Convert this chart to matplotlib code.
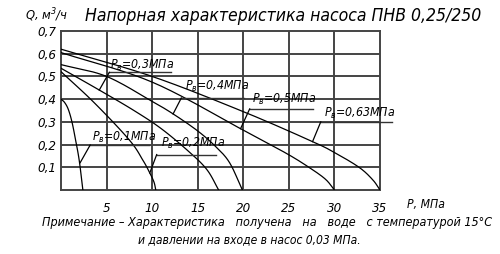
import numpy as np
import matplotlib.pyplot as plt
from matplotlib import font_manager

# --- данные ---
labels = ['0,1', '0,2', '0,3', '0,4', '0,5', '0,63']

p01_x = [0, 0.4, 0.8, 1.2, 1.6, 2.0, 2.4]
p01_q = [0.40, 0.385, 0.355, 0.30, 0.22, 0.13, 0.0]

p02_x = [0, 3.7, 7.5, 9.0, 9.74, 10.2, 10.4]
p02_q = [0.521, 0.382, 0.22, 0.13, 0.075, 0.035, 0.0]

p03_x = [0, 4.2, 8, 11, 14, 16, 17.3]
p03_q = [0.536, 0.44, 0.35, 0.27, 0.17, 0.09, 0.0]

p04_x = [0, 5, 10, 12.3, 15, 17, 18.5, 19.9]
p04_q = [0.552, 0.50, 0.39, 0.335, 0.26, 0.19, 0.12, 0.0]

p05_x = [0, 10, 19.7, 21.8, 25, 27.2, 29, 30]
p05_q = [0.605, 0.475, 0.27, 0.225, 0.155, 0.10, 0.048, 0.0]

p063_x = [0, 10, 20, 27.6, 30, 32.7, 34.2, 35]
p063_q = [0.62, 0.50, 0.345, 0.213, 0.165, 0.10, 0.045, 0.0]

curves = [(p01_x, p01_q), (p02_x, p02_q), (p03_x, p03_q),
          (p04_x, p04_q), (p05_x, p05_q), (p063_x, p063_q)]

# подписи: начало текста (по базовой линии), полка (x1, x2, y), конец выноски на кривой
lab_text = [(3.4, 0.215), (11.0, 0.19), (5.4, 0.533), (13.6, 0.44), (21.0, 0.385), (28.9, 0.32)]
lab_shelf = [(3.2, 9.7, 0.198), (10.5, 17.0, 0.156), (5.3, 12.1, 0.518),
             (13.2, 20.1, 0.405), (20.7, 27.6, 0.357), (28.5, 36.3, 0.30)]
lab_end = [(2.1, 0.12), (9.74, 0.075), (4.2, 0.44), (12.3, 0.335), (19.7, 0.27), (27.6, 0.213)]

x_ticks = [5, 10, 15, 20, 25, 30, 35]
y_ticks = [0.1, 0.2, 0.3, 0.4, 0.5, 0.6, 0.7]

W, H = 500, 254


def smooth(xs, ys, n=20):
    """Catmull-Rom сглаживание по точкам."""
    pts = np.column_stack([xs, ys]).astype(float)
    pts = np.vstack([2 * pts[0] - pts[1], pts, 2 * pts[-1] - pts[-2]])
    out = []
    for i in range(1, len(pts) - 2):
        p0, p1, p2, p3 = pts[i - 1], pts[i], pts[i + 1], pts[i + 2]
        t = np.linspace(0, 1, n, endpoint=False)[:, None]
        seg = 0.5 * ((2 * p1) + (-p0 + p2) * t + (2 * p0 - 5 * p1 + 4 * p2 - p3) * t ** 2
                     + (-p0 + 3 * p1 - 3 * p2 + p3) * t ** 3)
        out.append(seg)
    out.append(pts[-2][None, :])
    out = np.vstack(out)
    return out[:, 0], out[:, 1]


names = {f.name for f in font_manager.fontManager.ttflist}
fam = 'Liberation Sans Narrow' if 'Liberation Sans Narrow' in names else 'DejaVu Sans'
plt.rcParams['font.family'] = [fam, 'DejaVu Sans']
plt.rcParams['font.style'] = 'italic'
plt.rcParams['font.stretch'] = 'condensed'
plt.rcParams['mathtext.fontset'] = 'custom'
plt.rcParams['mathtext.rm'] = fam
plt.rcParams['mathtext.it'] = fam + ':italic'

fig = plt.figure(figsize=(W / 100, H / 100), dpi=100)
ax = fig.add_axes([61 / W, 1 - 190 / H, 319 / W, 159 / H])
ax.set_xlim(0, 35)
ax.set_ylim(0, 0.7)


def fit(t, width_px):
    """подгоняет размер шрифта под ширину в пикселях"""
    r = fig.canvas.get_renderer()
    for _ in range(2):
        w = t.get_window_extent(r).width
        t.set_fontsize(t.get_fontsize() * width_px / w)


def ftext(x, y, s, width_px, ha='left', size=10):
    t = fig.text(x / W, 1 - y / H, s, fontsize=size, ha=ha, va='baseline')
    fit(t, width_px)
    return t


for v in x_ticks[:-1]:
    ax.axvline(v, color='#444444', lw=1.4, zorder=1)
for v in y_ticks[:-1]:
    ax.axhline(v, color='#444444', lw=1.4, zorder=1)
for s in ax.spines.values():
    s.set_color('#444444')
    s.set_linewidth(1.4)

for xs, ys in curves:
    sx, sy = smooth(xs, ys)
    ax.plot(sx, sy, color='black', lw=0.9, zorder=3)

lab_objs = []
for lab, (tx, ty), (x1, x2, yy), (ex, ey) in zip(labels, lab_text, lab_shelf, lab_end):
    t = ax.text(tx, ty, r'$P_{в}$=' + lab + 'МПа', fontsize=9, va='baseline', ha='left', zorder=4)
    lab_objs.append(t)
    ax.plot([x1, x2], [yy, yy], color='#333333', lw=1.0, clip_on=False, zorder=4)
    ax.plot([x1, ex], [yy, ey], color='black', lw=0.9, clip_on=False, zorder=4)

fig.canvas.draw()
fit(lab_objs[2], 64)
for t in lab_objs:
    t.set_fontsize(lab_objs[2].get_fontsize())

ax.set_xticks(x_ticks)
ax.set_xticklabels([str(v) for v in x_ticks])
ax.set_yticks(y_ticks)
ax.set_yticklabels([f'{v:.1f}'.replace('.', ',') for v in y_ticks])
ax.tick_params(length=0, labelsize=9.5, pad=3)
ax.tick_params(axis='x', pad=9)

ftext(25, 20, 'Q, м$^3$/ч', 43)
ftext(85, 21, 'Напорная характеристика насоса ПНВ 0,25/250', 395)
ftext(407, 208, 'Р, МПа', 38)
ftext(42, 226, 'Примечание – Характеристика   получена   на   воде   с температурой 15°С', 450)
ftext(138, 243, 'и давлении на входе в насос 0,03 МПа.', 222)

fig.savefig('out.png', dpi=100)
